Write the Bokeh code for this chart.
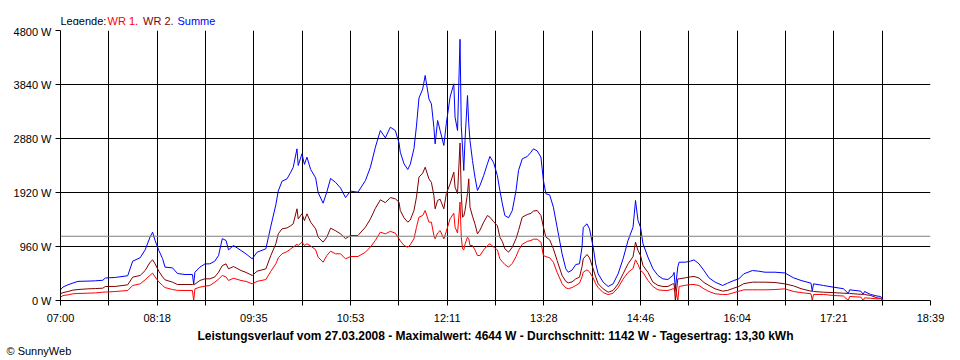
import numpy as np
from bokeh.plotting import figure
from bokeh.layouts import column
from bokeh.models import Range1d, FixedTicker, Span, ColumnDataSource, Title
from bokeh.core.properties import value
from bokeh.embed import file_html
from bokeh.resources import INLINE

# ---------------- data ----------------
times = ["07:00", "07:02", "07:06", "07:10", "07:14", "07:22", "07:28", "07:34", "07:36", "07:44",
         "07:54", "07:58", "08:04", "08:08", "08:12", "08:14", "08:16", "08:19", "08:22", "08:24",
         "08:30", "08:34", "08:40", "08:46", "08:47", "08:48", "08:52", "08:56", "09:00", "09:04",
         "09:07", "09:10", "09:13", "09:15", "09:19", "09:25", "09:29", "09:34", "09:38", "09:45",
         "09:49", "09:53", "09:55", "09:58", "10:02", "10:05", "10:07", "10:10", "10:11", "10:14",
         "10:16", "10:18", "10:21", "10:25", "10:27", "10:31", "10:34", "10:37", "10:41", "10:45",
         "10:49", "10:53", "10:59", "11:05", "11:09", "11:13", "11:17", "11:21", "11:25", "11:29",
         "11:32", "11:33", "11:36", "11:39", "11:41", "11:44", "11:46", "11:48", "11:51", "11:53",
         "11:56", "11:58", "12:00", "12:01", "12:03", "12:05", "12:08", "12:10", "12:13", "12:16",
         "12:17", "12:19", "12:21", "12:22", "12:23", "12:24", "12:25", "12:27", "12:28", "12:29",
         "12:31", "12:33", "12:35", "12:37", "12:40", "12:43", "12:45", "12:48", "12:51", "12:53",
         "12:55", "12:57", "13:00", "13:03", "13:06", "13:08", "13:11", "13:15", "13:18", "13:20",
         "13:23", "13:26", "13:28", "13:30", "13:33", "13:36", "13:39", "13:43", "13:46", "13:48",
         "13:51", "13:54", "13:57", "13:59", "14:00", "14:03", "14:05", "14:08", "14:10", "14:12",
         "14:16", "14:20", "14:24", "14:28", "14:32", "14:36", "14:40", "14:42", "14:44", "14:46",
         "14:48", "14:52", "14:56", "15:00", "15:04", "15:08", "15:12", "15:13", "15:14", "15:16",
         "15:17", "15:22", "15:26", "15:29", "15:33", "15:37", "15:41", "15:46", "15:52", "15:56",
         "16:01", "16:05", "16:09", "16:16", "16:21", "16:26", "16:34", "16:42", "16:49", "16:55",
         "17:03", "17:04", "17:05", "17:13", "17:21", "17:29", "17:33", "17:34", "17:43", "17:45",
         "17:46", "17:51", "17:56", "17:59", "18:01", "18:17"]

wr1_w = [59, 89, 100, 119, 125, 130, 135, 148, 150, 160,
         178, 267, 296, 367, 450, 486, 420, 330, 267, 230,
         195, 180, 178, 178, 0, 207, 237, 254, 267, 326,
         380, 445, 420, 356, 396, 356, 340, 296, 340, 373,
         520, 652, 760, 830, 870, 919, 950, 1000, 978, 1040,
         978, 1008, 970, 901, 770, 681, 800, 877, 830, 830,
         741, 782, 782, 859, 950, 1070, 1215, 1185, 1230, 1197,
         1096, 1060, 978, 948, 990, 1100, 1300, 1481, 1511, 1600,
         1393, 1393, 1156, 1096, 1200, 1244, 1096, 1230, 1452, 1552,
         1304, 1200, 1750, 1126, 919, 900, 1000, 1126, 1100, 978,
         978, 900, 800, 800, 900, 978, 1008, 950, 900, 741,
         690, 640, 593, 660, 780, 889, 1000, 1050, 1067, 1090,
         1090, 1037, 800, 780, 760, 680, 500, 300, 225, 210,
         230, 267, 308, 420, 503, 545, 510, 400, 296, 230,
         140, 105, 130, 230, 380, 500, 570, 723, 640, 533,
         500, 356, 249, 190, 180, 178, 207, 207, 207, 0,
         249, 270, 284, 284, 267, 207, 160, 119, 107, 107,
         140, 165, 190, 190, 190, 190, 195, 207, 160, 140,
         119, 0, 107, 107, 89, 80, 0, 71, 60, 0,
         47, 40, 30, 30, 0, None]

wr2_w = [119, 140, 160, 185, 195, 207, 212, 219, 249, 250,
         279, 415, 445, 533, 680, 723, 652, 520, 420, 367,
         326, 284, 284, 284, 284, 290, 356, 385, 385, 420,
         503, 620, 652, 563, 604, 533, 500, 445, 521, 563,
         800, 1008, 1185, 1274, 1290, 1330, 1363, 1630, 1452, 1541,
         1420, 1541, 1393, 1274, 1126, 1037, 1126, 1286, 1240, 1185,
         1100, 1156, 1156, 1304, 1450, 1640, 1790, 1740, 1830, 1808,
         1748, 1600, 1470, 1393, 1430, 1600, 1837, 2193, 2264, 2370,
         2163, 2100, 1867, 1630, 1780, 1800, 1630, 1900, 2074, 2281,
         2015, 1900, 2800, 1900, 1481, 1500, 1600, 1900, 2163, 1659,
         1500, 1363, 1185, 1250, 1393, 1511, 1481, 1400, 1330, 1126,
         1050, 919, 859, 948, 1100, 1244, 1481, 1529, 1550, 1590,
         1600, 1511, 1304, 1126, 1080, 919, 711, 445, 340, 315,
         330, 385, 415, 600, 741, 818, 760, 560, 420, 296,
         207, 148, 178, 296, 474, 652, 780, 1037, 889, 800,
         622, 500, 326, 270, 249, 249, 296, 296, 0, 385,
         385, 403, 420, 427, 400, 320, 267, 207, 166, 180,
         220, 249, 300, 326, 326, 326, 320, 296, 260, 210,
         166, 166, 160, 148, 140, 130, 125, 125, 110, 110,
         107, 89, 47, 40, 0, None]

summe_w = [190, 240, 280, 310, 340, 345, 350, 360, 400, 410,
           440, 700, 760, 900, 1130, 1215, 1067, 890, 745, 593,
           580, 480, 462, 462, 290, 503, 593, 650, 652, 700,
           800, 1100, 1067, 900, 978, 889, 830, 741, 859, 919,
           1320, 1700, 1950, 2120, 2163, 2281, 2370, 2696, 2400, 2608,
           2420, 2548, 2330, 2180, 1920, 1730, 1930, 2170, 2100, 2000,
           1830, 1944, 1926, 2133, 2370, 2726, 3022, 2892, 3081, 3022,
           2800, 2637, 2430, 2329, 2420, 2700, 3100, 3600, 3760, 4000,
           3585, 3496, 3081, 2785, 3200, 3022, 2756, 3150, 3615, 3852,
           3259, 3022, 4644, 3100, 2726, 2311, 2844, 3644, 3141, 2844,
           2489, 2193, 1956, 2045, 2222, 2430, 2560, 2450, 2222, 1956,
           1720, 1511, 1470, 1600, 1956, 2311, 2519, 2560, 2637, 2696,
           2660, 2548, 2133, 1896, 1878, 1659, 1304, 830, 563, 503,
           540, 640, 652, 948, 1300, 1363, 1274, 948, 652, 474,
           326, 249, 296, 474, 741, 1067, 1304, 1778, 1422, 1304,
           1008, 770, 563, 445, 385, 373, 445, 500, 207, 600,
           681, 681, 699, 722, 652, 533, 403, 326, 267, 308,
           356, 385, 474, 533, 521, 503, 503, 490, 403, 356,
           308, 166, 296, 267, 237, 210, 125, 190, 166, 110,
           160, 107, 80, 71, 0, 0]

y_tick_values = [0, 960, 1920, 2880, 3840, 4800]
y_tick_labels = ["0 W", "960 W", "1920 W", "2880 W", "3840 W", "4800 W"]
x_tick_labels = ["07:00", "08:18", "09:35", "10:53", "12:11", "13:28", "14:46", "16:04", "17:21", "18:39"]
average_w = 1142

legend_parts = ["Legende:", "WR 1,", "WR 2,", "Summe"]
legend_colors = ["#000000", "#ff0000", "#800000", "#0000ff"]
title_text = ("Leistungsverlauf vom 27.03.2008 - Maximalwert: 4644 W - "
              "Durchschnitt: 1142 W - Tagesertrag: 13,30 kWh")
copyright_text = "\u00a9 SunnyWeb"

FONT = "Liberation Sans"
W = 960
LEFT, RIGHT = 60, 30

# ---------------- helpers ----------------
def to_sec(s):
    h, m = s.split(":")
    return int(h) * 3600 + int(m) * 60

x_start = to_sec(x_tick_labels[0])
x_end = to_sec(x_tick_labels[-1])
n_steps = 18
step = (x_end - x_start) // n_steps
tick_positions = [x_start + k * step for k in range(n_steps + 1)]
y_max = y_tick_values[-1]

src = ColumnDataSource(dict(
    x=np.array([to_sec(t) for t in times], dtype=float),
    wr1=np.array(wr1_w, dtype=float),
    wr2=np.array(wr2_w, dtype=float),
    summe=np.array(summe_w, dtype=float),
))

# ---------------- top strip: legend (frame aligned with main frame) ----------------
TOP_H = 25
top = figure(width=W, height=TOP_H, output_backend="svg", toolbar_location=None,
             x_range=Range1d(LEFT, W - RIGHT), y_range=Range1d(TOP_H, 0),
             x_axis_type=None, y_axis_type=None,
             min_border_left=LEFT, min_border_right=RIGHT, min_border_top=0, min_border_bottom=0)
top.outline_line_color = None
top.background_fill_color = "white"
top.border_fill_color = "white"
top.text(x=[60, 107, 142.5, 177], y=[20] * 4, text=legend_parts,
         text_color=legend_colors, text_font=value(FONT), text_font_size=value("11px"),
         text_baseline="alphabetic", text_align="left")

# ---------------- main chart ----------------
p = figure(width=W, height=360 - TOP_H, output_backend="svg", toolbar_location=None,
           x_range=Range1d(x_start, x_end), y_range=Range1d(0, y_max),
           min_border_left=LEFT, min_border_right=RIGHT,
           min_border_top=30 - TOP_H, min_border_bottom=60)
p.outline_line_color = None
p.background_fill_color = "white"
p.border_fill_color = "white"

xa = p.xaxis[0]
xa.ticker = FixedTicker(ticks=tick_positions)
overrides = {}
for k, pos in enumerate(tick_positions):
    overrides[pos] = x_tick_labels[k // 2] if k % 2 == 0 else ""
xa.major_label_overrides = overrides
xa.minor_tick_line_color = None
xa.major_tick_in = 0
xa.major_tick_out = 5
xa.major_label_standoff = 6
xa.axis_line_color = "black"
xa.major_tick_line_color = "black"
xa.major_label_text_font = FONT
xa.major_label_text_font_size = "11px"
xa.major_label_text_color = "black"

ya = p.yaxis[0]
ya.ticker = FixedTicker(ticks=y_tick_values)
ya.major_label_overrides = {v: l for v, l in zip(y_tick_values, y_tick_labels)}
ya.minor_tick_line_color = None
ya.major_tick_in = 0
ya.major_tick_out = 5
ya.major_label_standoff = 4
ya.axis_line_color = "black"
ya.major_tick_line_color = "black"
ya.major_label_text_font = FONT
ya.major_label_text_font_size = "11px"
ya.major_label_text_color = "black"

p.xgrid.ticker = FixedTicker(ticks=tick_positions[:-1])
p.ygrid.ticker = FixedTicker(ticks=y_tick_values)
for g in (p.xgrid[0], p.ygrid[0]):
    g.grid_line_color = "black"
    g.grid_line_width = 1
    g.grid_line_alpha = 1.0

p.add_layout(Span(location=average_w, dimension="width", line_color="#808080", line_width=1))

p.line("x", "summe", source=src, line_color="#0000ff", line_width=1)
p.line("x", "wr2", source=src, line_color="#800000", line_width=1)
p.line("x", "wr1", source=src, line_color="#ff0000", line_width=1)

# bottom texts as titles below the x axis
p.add_layout(Title(text=title_text, align="center", offset=-16, standoff=0,
                   text_font=FONT, text_font_size="12px", text_font_style="bold",
                   text_color="black"), "below")
p.add_layout(Title(text=copyright_text, align="left", offset=-54, standoff=0,
                   text_font=FONT, text_font_size="11px", text_font_style="normal",
                   text_color="black"), "below")

layout = column(top, p, spacing=0)
open("out.html", "w").write(file_html(layout, INLINE))
